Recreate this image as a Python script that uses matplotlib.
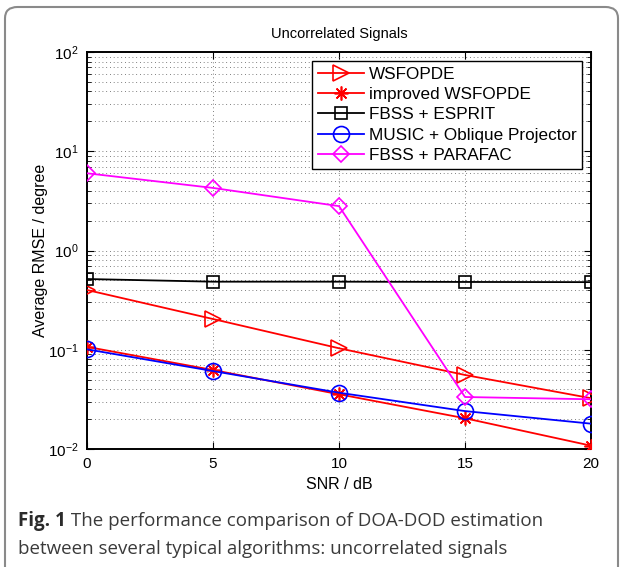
import matplotlib
matplotlib.use("Agg")
import matplotlib.pyplot as plt
from matplotlib.patches import FancyBboxPatch
import numpy as np

plt.rcParams['font.family'] = ['Liberation Sans', 'DejaVu Sans']
plt.rcParams['mathtext.fontset'] = 'custom'
plt.rcParams['mathtext.rm'] = 'Liberation Sans'
plt.rcParams['mathtext.it'] = 'Liberation Sans:italic'

snr = [0, 5, 10, 15, 20]
wsfopde = [0.40, 0.204, 0.1035, 0.0557, 0.0325]
improved_wsfopde = [0.107, 0.0625, 0.0356, 0.0204, 0.0108]
fbss_esprit = [0.516, 0.485, 0.485, 0.482, 0.48]
music_oblique = [0.101, 0.061, 0.0369, 0.0241, 0.018]
fbss_parafac = [6.0, 4.27, 2.8, 0.0334, 0.0317]

labels = ['WSFOPDE', 'improved WSFOPDE', 'FBSS + ESPRIT',
          'MUSIC + Oblique Projector', 'FBSS + PARAFAC']
title = 'Uncorrelated Signals'
xlabel = 'SNR / dB'
ylabel = 'Average RMSE / degree'
caption_bold = 'Fig. 1'
caption_rest1 = ' The performance comparison of DOA-DOD estimation'
caption_line2 = 'between several typical algorithms: uncorrelated signals'

W, H = 623, 567
fig = plt.figure(figsize=(W / 100, H / 100), dpi=100)
ax = fig.add_axes([87 / W, 1 - 449 / H, (591 - 87) / W, (449 - 52) / H])

asterisk = (8, 2, 0)
lw = 1.3
ax.plot(snr, wsfopde, color='#ff0000', lw=lw, marker='>', ms=12, mfc='none', mew=1.2, label=labels[0], zorder=3)
ax.plot(snr, improved_wsfopde, color='#ff0000', lw=lw, marker=asterisk, ms=10, mew=1.2, label=labels[1], zorder=3)
ax.plot(snr, fbss_esprit, color='#000000', lw=lw, marker='s', ms=9, mfc='none', mew=1.2, label=labels[2], zorder=3)
ax.plot(snr, music_oblique, color='#0000ff', lw=lw, marker='o', ms=11.5, mfc='none', mew=1.2, label=labels[3], zorder=3)
ax.plot(snr, fbss_parafac, color='#ff00ff', lw=lw, marker='D', ms=8, mfc='none', mew=1.2, label=labels[4], zorder=3)

ax.set_yscale('log')
ax.set_ylim(1e-2, 1e2)
ax.set_xlim(0, 20)
ax.set_xticks(snr)
ax.set_xticks([], minor=True)

ax.grid(True, which='major', axis='x', color='#555555', linestyle=(0, (1, 3.5)), lw=0.6)
ax.grid(True, which='both', axis='y', color='#555555', linestyle=(0, (1, 3.5)), lw=0.6)

for s in ax.spines.values():
    s.set_linewidth(1.4)
ax.tick_params(which='both', direction='in', top=True, right=True, labelsize=11, pad=6)
ax.tick_params(which='major', length=5, width=0.8)
ax.tick_params(which='minor', length=3, width=0.6)

ax.set_title(title, fontsize=10.5, pad=10)
ax.set_xlabel(xlabel, fontsize=11.5, labelpad=4)
ax.set_ylabel(ylabel, fontsize=11.5, labelpad=0)

leg = ax.legend(loc='upper right', fontsize=12.3, frameon=True, fancybox=False,
                edgecolor='black', framealpha=1, handlelength=2.65, handletextpad=0.3,
                labelspacing=0.32, borderpad=0.35, borderaxespad=0.5)
leg.get_frame().set_linewidth(1.0)

# caption
cap_fs = 13.5
fig.text(18 / W, 1 - 521 / H, caption_bold, fontsize=cap_fs, fontweight='bold',
         family=['Open Sans', 'DejaVu Sans'], color='#2b2b2b', va='center')
fig.canvas.draw()
r = fig.texts[0].get_window_extent()
fig.text(r.x1 / W, 1 - 521 / H, caption_rest1, fontsize=cap_fs,
         family=['Open Sans', 'DejaVu Sans'], color='#3a3a3a', va='center')
fig.text(18 / W, 1 - 549 / H, caption_line2, fontsize=cap_fs,
         family=['Open Sans', 'DejaVu Sans'], color='#3a3a3a', va='center')

# rounded frame
box = FancyBboxPatch((5 / W, -0.1), (618 - 5) / W, (1 - 7 / H) + 0.1,
                     boxstyle='round,pad=0,rounding_size=0.02',
                     transform=fig.transFigure, fill=False,
                     edgecolor='#8a8a8a', lw=1.5, zorder=-1)
fig.patches.append(box)

fig.savefig('out.png', dpi=100)
